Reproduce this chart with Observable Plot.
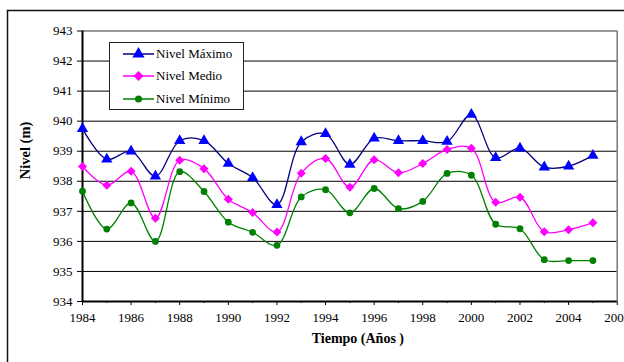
<!DOCTYPE html>
<html>
<head>
<meta charset="utf-8">
<script src="https://cdn.jsdelivr.net/npm/d3@7"></script>
<script src="https://cdn.jsdelivr.net/npm/@observablehq/plot@0.6"></script>
<style>
  body { margin: 0; background: white; }
  #wrap { position: relative; width: 624px; height: 362px; overflow: hidden; font-family: "Liberation Serif", "Times New Roman", serif; }
  #legend { position: absolute; left: 109px; top: 42px; width: 133px; height: 66px; background: white; border: 1px solid #222; font-size: 13px; font-family: "Liberation Serif", "Times New Roman", serif; }
  #legend .row { position: absolute; left: 0; height: 16px; display: flex; align-items: center; }
  #legend .row span { margin-left: 2px; white-space: nowrap; }
</style>
</head>
<body>
<div id="wrap"></div>
<script>
// Annual reservoir levels (m)
const years = [1984, 1985, 1986, 1987, 1988, 1989, 1990, 1991, 1992, 1993, 1994,
               1995, 1996, 1997, 1998, 1999, 2000, 2001, 2002, 2003, 2004, 2005];
const nivelMaximo = [939.75, 938.73, 939.00, 938.17, 939.35, 939.35, 938.59, 938.12, 937.22, 939.31, 939.58,
                     938.56, 939.43, 939.35, 939.35, 939.32, 940.22, 938.78, 939.10, 938.47, 938.50, 938.86];
const nivelMedio  = [938.49, 937.87, 938.33, 936.77, 938.70, 938.42, 937.40, 936.96, 936.31, 938.27, 938.76,
                     937.80, 938.72, 938.28, 938.59, 939.06, 939.10, 937.30, 937.47, 936.32, 936.39, 936.62];
const nivelMinimo = [937.67, 936.41, 937.28, 936.00, 938.32, 937.66, 936.64, 936.30, 935.87, 937.48, 937.72,
                     936.95, 937.76, 937.09, 937.33, 938.26, 938.20, 936.57, 936.42, 935.39, 935.36, 935.36];

const yTicks = [934, 935, 936, 937, 938, 939, 940, 941, 942, 943];
const xTicks = [1984, 1986, 1988, 1990, 1992, 1994, 1996, 1998, 2000, 2002, 2004, 2006];
const xMinor = [1985, 1987, 1989, 1991, 1993, 1995, 1997, 1999, 2001, 2003, 2005];

const serif = '"Liberation Serif", "Times New Roman", serif';

// square diamond marker (a square turned 45°)
const squareDiamond = {
  draw(context, size) {
    const h = Math.sqrt(size / 2);
    context.moveTo(0, -h);
    context.lineTo(h, 0);
    context.lineTo(0, h);
    context.lineTo(-h, 0);
    context.closePath();
  }
};

const series = [
  {name: "Nivel Máximo", values: nivelMaximo, line: "#000080", fill: "#0000ff", symbol: d3.symbolTriangle, r: 4.2},
  {name: "Nivel Medio",  values: nivelMedio,  line: "#ff00ff", fill: "#ff00ff", symbol: squareDiamond,    r: 3.6},
  {name: "Nivel Mínimo", values: nivelMinimo, line: "#008000", fill: "#008000", symbol: d3.symbolCircle,  r: 3.4}
];

const rows = series.flatMap(s => years.map((year, i) => ({serie: s.name, year, value: s.values[i]})));

const marks = [
  // outer chart border
  Plot.frame({stroke: "#111", strokeWidth: 1.5, insetLeft: -75, insetTop: -20.5, insetRight: -20, insetBottom: -80}),
  // horizontal gridlines
  Plot.ruleY(yTicks.slice(1, -1), {stroke: "black", strokeWidth: 1}),
  // plot-area top and right edges
  Plot.ruleY([943], {stroke: "#777", strokeWidth: 1.5}),
  Plot.ruleX([2006], {stroke: "#777", strokeWidth: 1.5}),
  // axes
  Plot.axisY({ticks: yTicks, tickSize: 5, tickPadding: 5, tickFormat: d => String(d), fontSize: 13, fontFamily: serif, label: null}),
  Plot.axisX({ticks: xMinor, tickSize: 2, tickFormat: () => "", label: null}),
  Plot.axisX({ticks: xTicks, tickSize: 4, tickPadding: 7, tickFormat: d => String(d), fontSize: 13, fontFamily: serif, label: null}),
  Plot.ruleX([1984], {stroke: "black", strokeWidth: 2}),
  Plot.ruleY([934], {stroke: "black", strokeWidth: 2}),
  // axis titles
  Plot.text(["Nivel (m)"], {frameAnchor: "left", dx: -57, dy: 13, rotate: -90, fontSize: 14.5, fontWeight: "bold", fontFamily: serif}),
  Plot.text(["Tiempo (Años )"], {frameAnchor: "bottom", dx: 8, dy: 41, fontSize: 14, fontWeight: "bold", fontFamily: serif})
];

for (const s of series) {
  const d = rows.filter(r => r.serie === s.name);
  marks.push(Plot.line(d, {x: "year", y: "value", curve: "catmull-rom", stroke: s.line, strokeWidth: 1.3}));
  marks.push(Plot.dot(d, {x: "year", y: "value", symbol: () => s.symbol, fill: s.fill, r: s.r, stroke: "none"}));
}

const chart = Plot.plot({
  width: 624,
  height: 362,
  marginLeft: 82,
  marginRight: 7.3,
  marginTop: 30.5,
  marginBottom: 61,
  x: {domain: [1984, 2006]},
  y: {domain: [934, 943]},
  style: {fontFamily: serif, fontSize: "13px", color: "black", background: "white", overflow: "visible"},
  marks
});

const wrap = document.getElementById("wrap");
wrap.appendChild(chart);

// legend box
const legend = d3.select(wrap).append("div").attr("id", "legend");
series.forEach((s, i) => {
  const size = s.symbol === squareDiamond ? 48 : s.symbol === d3.symbolTriangle ? 64 : 40;
  const row = legend.append("div").attr("class", "row").style("top", `${3 + i * 22.3}px`).style("left", "13px");
  const sw = row.append("svg").attr("width", 31).attr("height", 16);
  sw.append("line").attr("x1", 0).attr("x2", 31).attr("y1", 8).attr("y2", 8)
    .attr("stroke", s.line).attr("stroke-width", 1.5);
  sw.append("path").attr("d", d3.symbol(s.symbol, size)()).attr("transform", "translate(15.5,8)").attr("fill", s.fill);
  row.append("span").text(s.name);
});
</script>
</body>
</html>
